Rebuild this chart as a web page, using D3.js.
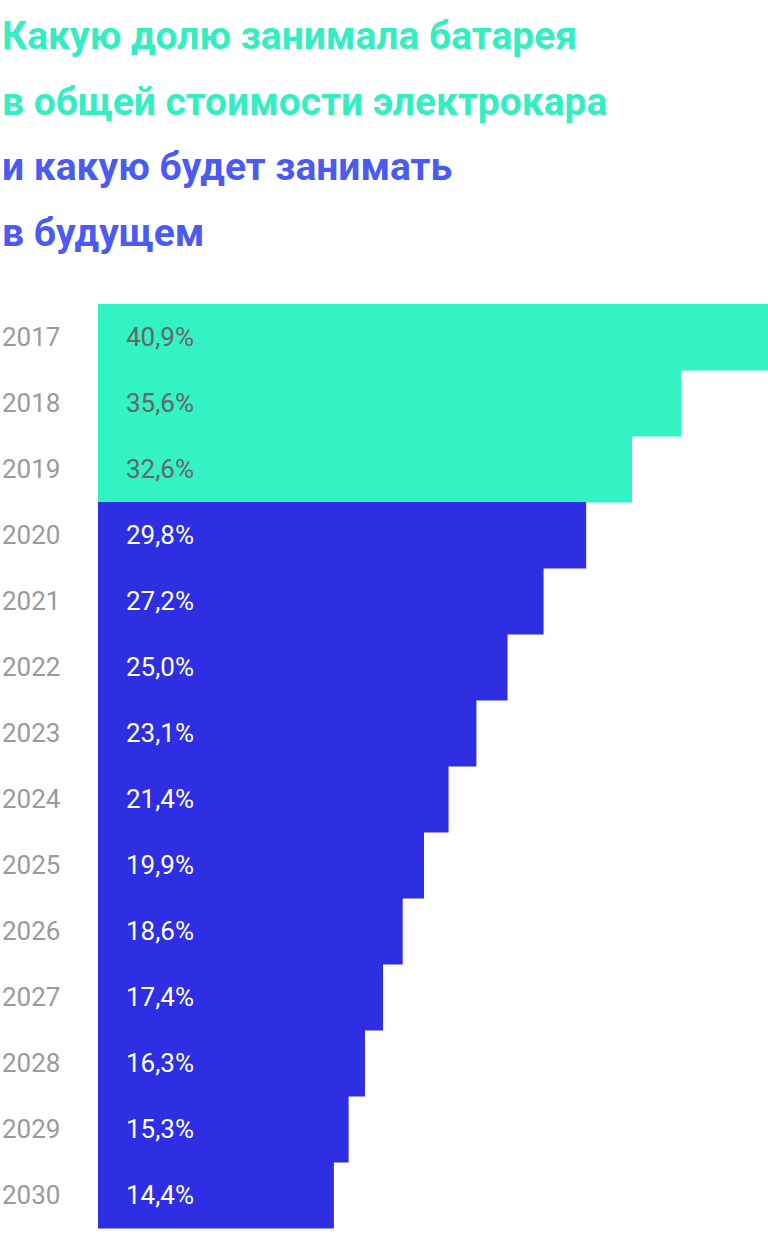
<!DOCTYPE html>
<html><head><meta charset="utf-8">
<script src="https://cdn.jsdelivr.net/npm/d3@7"></script>
<style>body{margin:0;background:#fff}</style>
</head><body><svg id="chart" width="768" height="1234"></svg>
<script>
var years = ["2017","2018","2019","2020","2021","2022","2023","2024","2025","2026","2027","2028","2029","2030"];
var shares = [40.9,35.6,32.6,29.8,27.2,25.0,23.1,21.4,19.9,18.6,17.4,16.3,15.3,14.4];
var actual = ["2017","2018","2019"];
var titleLines = ["Какую долю занимала батарея","в общей стоимости электрокара","и какую будет занимать","в будущем"];
var titleColors = ["#33eec2","#33eec2","#4a5af2","#4a5af2"];

var svg = d3.select("#chart");
var font = "Roboto, 'Open Sans', sans-serif";

svg.selectAll("text.title").data(titleLines).enter().append("text")
  .attr("class","title").attr("x",2).attr("y",(d,i)=>49+i*65.5)
  .attr("font-family",font).attr("font-weight",700).attr("font-size",39)
  .attr("fill",(d,i)=>titleColors[i]).text(d=>d);

var x = d3.scaleLinear().domain([0,40.9]).range([98,768]);
var y = d3.scaleBand().domain(years).range([304,1228]).padding(0);

var fmt = v => v.toFixed(1).replace(".",",") + "%";

var rows = svg.selectAll("g.row").data(years).enter().append("g").attr("class","row");
rows.append("rect").attr("x",x(0)).attr("y",d=>y(d))
  .attr("width",(d,i)=>x(shares[i])-x(0)).attr("height",y.bandwidth()+0.5)
  .attr("fill",d=>actual.includes(d)?"#33f2c4":"#2e2ee2");
rows.append("text").attr("x",2).attr("y",d=>y(d)+y.bandwidth()/2+9)
  .attr("font-family",font).attr("font-size",26).attr("fill","#9a9a9a").text(d=>d);
rows.append("text").attr("x",126).attr("y",d=>y(d)+y.bandwidth()/2+9)
  .attr("font-family",font).attr("font-size",26)
  .attr("fill",d=>actual.includes(d)?"#666666":"#ffffff").text((d,i)=>fmt(shares[i]));
</script></body></html>
